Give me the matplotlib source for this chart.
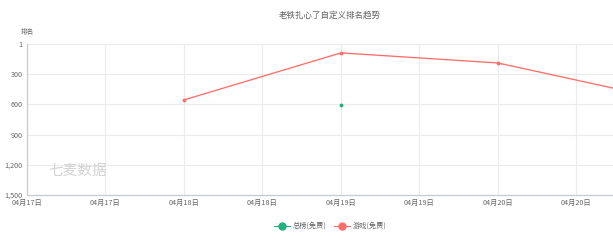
import matplotlib.pyplot as plt
import matplotlib.dates as mdates
from matplotlib.ticker import FixedLocator, FuncFormatter
from datetime import datetime, timedelta

plt.rcParams['font.family'] = ['Noto Sans CJK SC', 'DejaVu Sans']

# data
game_dates = ["2024-04-18", "2024-04-19", "2024-04-20", "2024-04-21"]
game_rank = [557, 90, 190, 530]
total_dates = ["2024-04-19"]
total_rank = [607]

title = "老铁扎心了自定义排名趋势"
y_ticks = [1, 300, 600, 900, 1200, 1500]

red = '#ff6e6b'
green = '#22b07d'
txt = '#666666'

fig = plt.figure(figsize=(6.13, 2.44), dpi=100)
ax = fig.add_axes([0.044, 0.201, 0.956, 0.619])

gd = [datetime.strptime(d, "%Y-%m-%d") for d in game_dates]
td = [datetime.strptime(d, "%Y-%m-%d") for d in total_dates]

ax.plot(gd, game_rank, color=red, lw=0.95, marker='o', ms=1.8)
ax.plot(td, total_rank, color=green, lw=0.95, marker='o', ms=1.8, ls='none')

start = datetime(2024, 4, 17)
ax.set_xlim(start, start + timedelta(hours=89.6))
ax.set_ylim(1500, 1)

ax.xaxis.set_major_locator(mdates.HourLocator(byhour=[0, 12]))
ax.xaxis.set_major_formatter(mdates.DateFormatter('%m月%d日'))
ax.yaxis.set_major_locator(FixedLocator(y_ticks))
ax.yaxis.set_major_formatter(FuncFormatter(lambda v, p: f"{int(v):,}"))

ax.grid(True, color='#ebebeb', lw=0.8)
ax.set_axisbelow(True)
for s in ['top', 'right']:
    ax.spines[s].set_visible(False)
for s in ['left', 'bottom']:
    ax.spines[s].set_color('#c6cad6')
    ax.spines[s].set_linewidth(0.9)
ax.tick_params(axis='both', length=0, labelsize=5.2, colors=txt, pad=3)

fig.text(0.538, 0.938, title, fontsize=6.1, color='#606060', ha='center', va='center')
fig.text(0.033, 0.869, "排名", fontsize=4.8, color=txt, ha='left', va='center')
fig.text(0.078, 0.299, "七麦数据", fontsize=10.5, color='#d2d2d2', style='italic',
         ha='left', va='center')

# legend
ly = 0.074
for x0, col, lab in [(0.46, green, "总榜(免费)"), (0.558, red, "游戏(免费)")]:
    fig.add_artist(plt.Line2D([x0 - 0.013, x0 + 0.013], [ly, ly], color=col, lw=0.8))
    fig.add_artist(plt.Line2D([x0], [ly], color=col, marker='o', ms=5))
    fig.text(x0 + 0.018, ly, lab, fontsize=5.2, color=txt, ha='left', va='center')

fig.savefig('out.png', dpi=100)
